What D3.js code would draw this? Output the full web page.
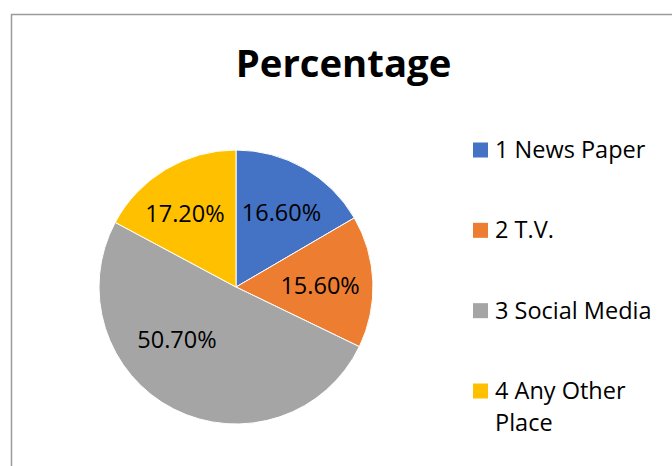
<!DOCTYPE html>
<html><head><meta charset="utf-8">
<script src="https://cdn.jsdelivr.net/npm/d3@7"></script>
<style>html,body{margin:0;padding:0;background:#fff;overflow:hidden}</style>
</head><body><svg id="c" width="672" height="466"></svg>
<script>
const categories = ["1 News Paper", "2 T.V.", "3 Social Media", "4 Any Other Place"];
const values = [16.6, 15.6, 50.7, 17.2];
const labels = ["16.60%", "15.60%", "50.70%", "17.20%"];
const colors = ["#4472C4", "#ED7D31", "#A5A5A5", "#FFC000"];
const title = "Percentage";

// layout: best-fit nudges of the data labels relative to the slice centroid
const labelNudge = [[3.2, -0.9], [-0.8, 2.4], [-20.5, -23.1], [-7.4, 0]];

const svg = d3.select("#c");
const font = "'Open Sans', 'Liberation Sans', sans-serif";

svg.append("path").attr("d", "M11.5,466 V14.5 H672").attr("fill", "none").attr("stroke", "#9a9a9a").attr("stroke-width", 1.5);

svg.append("text").attr("x", 343.5).attr("y", 77).attr("text-anchor", "middle")
  .attr("font-family", font).attr("font-weight", "bold").attr("font-size", 38.3).attr("fill", "#000").text(title);

const cx = 236, cy = 287, r = 137;
const pie = d3.pie().sort(null).value(d => d)(values);
const arc = d3.arc().innerRadius(0).outerRadius(r);
const g = svg.append("g").attr("transform", `translate(${cx},${cy})`);
g.selectAll("path").data(pie).join("path").attr("d", arc)
  .attr("fill", (d, i) => colors[i]).attr("stroke", "#fff").attr("stroke-width", 1);

const labelArc = d3.arc().innerRadius(r * 0.62).outerRadius(r * 0.62);
g.selectAll("text").data(pie).join("text")
  .attr("transform", (d, i) => {
    const [x, y] = labelArc.centroid(d);
    return `translate(${x + labelNudge[i][0]},${y + labelNudge[i][1]})`;
  })
  .attr("text-anchor", "middle").attr("dy", "0.35em")
  .attr("font-family", font).attr("font-size", 23.5).attr("fill", "#000")
  .text((d, i) => labels[i]);

const ly = d3.scalePoint().domain(categories).range([150, 391]);
const leg = svg.append("g");
categories.forEach((c, i) => {
  const y = ly(c);
  leg.append("rect").attr("x", 473).attr("y", y - 7.5).attr("width", 15).attr("height", 15).attr("fill", colors[i]);
  const words = c === "4 Any Other Place" ? ["4 Any Other", "Place"] : [c];
  words.forEach((w, j) => {
    leg.append("text").attr("x", 495).attr("y", y + 8 + j * 32)
      .attr("font-family", font).attr("font-size", 23.5).attr("fill", "#000").text(w);
  });
});
</script></body></html>
